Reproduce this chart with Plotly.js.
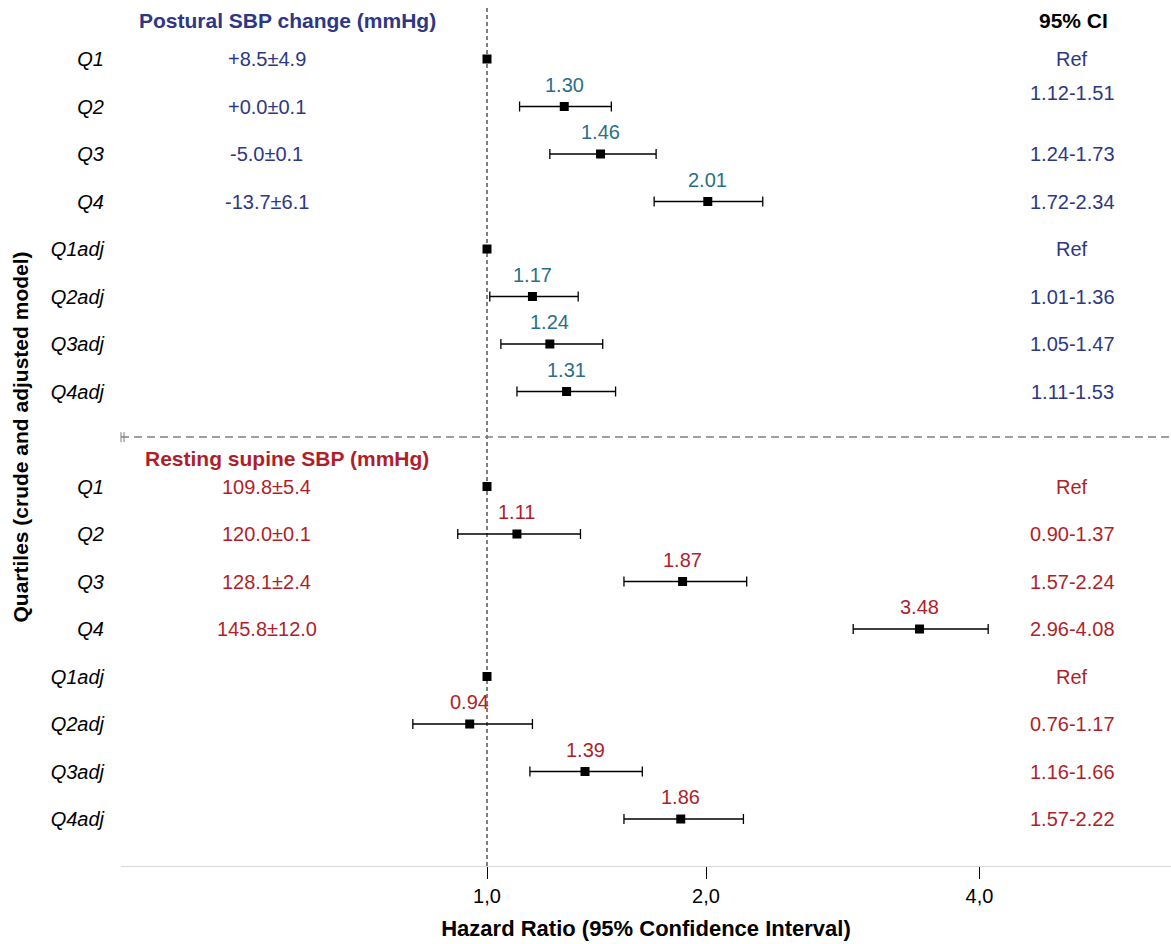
<!DOCTYPE html>
<html>
<head>
<meta charset="utf-8">
<script src="https://cdn.plot.ly/plotly-3.0.1.min.js"></script>
<style>html,body{margin:0;padding:0;background:#fff;}#chart{width:1171px;height:944px;}</style>
</head>
<body>
<div id="chart"></div>
<script>
// ---------- data ----------
const rowLabels = ["Q1","Q2","Q3","Q4","Q1adj","Q2adj","Q3adj","Q4adj"];

const posturalHeader = "Postural SBP change (mmHg)";
const posturalMeanSd = ["+8.5±4.9","+0.0±0.1","-5.0±0.1","-13.7±6.1","","","",""];
const posturalHR     = [1, 1.30, 1.46, 2.01, 1, 1.17, 1.24, 1.31];
const posturalLo     = [null, 1.12, 1.24, 1.72, null, 1.01, 1.05, 1.11];
const posturalHi     = [null, 1.51, 1.73, 2.34, null, 1.36, 1.47, 1.53];

const supineHeader = "Resting supine SBP (mmHg)";
const supineMeanSd = ["109.8±5.4","120.0±0.1","128.1±2.4","145.8±12.0","","","",""];
const supineHR     = [1, 1.11, 1.87, 3.48, 1, 0.94, 1.39, 1.86];
const supineLo     = [null, 0.90, 1.57, 2.96, null, 0.76, 1.16, 1.57];
const supineHi     = [null, 1.37, 2.24, 4.08, null, 1.17, 1.66, 2.22];

const xTickValues = [1, 2, 4];
const xTickLabels = ["1,0", "2,0", "4,0"];

// ---------- style ----------
const FONT = "Liberation Sans, Arial, Helvetica, sans-serif";
const NAVY = "#2e3785";
const TEAL = "#2a6f8a";
const RED  = "#b01f29";
const FS = 20;
// the reference x axis is a power (approximately cube-root) scale
const P = 0.32;
const tf = v => Math.pow(v, P);

// row positions on the y axis (group 1: 1..8, group 2: 10..17)
const rowsTop = rowLabels.map((_, i) => i + 1);
const rowsBot = rowLabels.map((_, i) => i + 10);

const traces = [];
const annotations = [];

function addGroup(rows, hr, lo, hi, meanSd, textColor, labelColor, ciYShift) {
  const ref = {x: [], y: []};
  const est = {x: [], y: [], plus: [], minus: []};
  hr.forEach((v, i) => {
    if (lo[i] === null) {
      ref.x.push(tf(v)); ref.y.push(rows[i]);
    } else {
      est.x.push(tf(v)); est.y.push(rows[i]);
      est.plus.push(tf(hi[i]) - tf(v));
      est.minus.push(tf(v) - tf(lo[i]));
      annotations.push({x: tf(v), y: rows[i], xref: 'x', yref: 'y', text: v.toFixed(2),
        showarrow: false, xanchor: 'center', yanchor: 'middle', yshift: 22,
        font: {family: FONT, size: FS, color: labelColor}});
    }
    // CI column text
    annotations.push({x: 0.906, xref: 'paper', y: rows[i], yref: 'y',
      text: lo[i] === null ? 'Ref' : lo[i].toFixed(2) + '-' + hi[i].toFixed(2),
      showarrow: false, xanchor: 'center', yanchor: 'middle', yshift: (ciYShift[i] || 0),
      font: {family: FONT, size: FS, color: textColor}});
    if (meanSd[i]) {
      annotations.push({x: 0.139, xref: 'paper', y: rows[i], yref: 'y', text: meanSd[i],
        showarrow: false, xanchor: 'center', yanchor: 'middle',
        font: {family: FONT, size: FS, color: textColor}});
    }
  });
  traces.push({type: 'scatter', mode: 'markers', x: est.x, y: est.y, hoverinfo: 'skip',
    marker: {symbol: 'square', size: 9, color: '#000'},
    error_x: {type: 'data', symmetric: false, array: est.plus, arrayminus: est.minus,
      color: '#000', thickness: 1.3, width: 5}});
  traces.push({type: 'scatter', mode: 'markers', x: ref.x, y: ref.y, hoverinfo: 'skip',
    marker: {symbol: 'square', size: 9, color: '#000'}});
}

addGroup(rowsTop, posturalHR, posturalLo, posturalHi, posturalMeanSd, NAVY, TEAL, [0, 14, 0, 0, 0, 0, 0, 0]);
addGroup(rowsBot, supineHR, supineLo, supineHi, supineMeanSd, RED, RED, []);

// headers
annotations.push({x: 0.159, xref: 'paper', y: 0.18, yref: 'y', text: '<b>' + posturalHeader + '</b>',
  showarrow: false, xanchor: 'center', yanchor: 'middle', font: {family: FONT, size: 21, color: NAVY}});
annotations.push({x: 0.9075, xref: 'paper', y: 0.18, yref: 'y', text: '<b>95% CI</b>',
  showarrow: false, xanchor: 'center', yanchor: 'middle', font: {family: FONT, size: 21, color: '#000'}});
annotations.push({x: 0.158, xref: 'paper', y: 9.42, yref: 'y', text: '<b>' + supineHeader + '</b>',
  showarrow: false, xanchor: 'center', yanchor: 'middle', font: {family: FONT, size: 21, color: RED}});

const layout = {
  width: 1171, height: 944,
  margin: {l: 121, r: 0, t: 8, b: 78},
  paper_bgcolor: '#fff', plot_bgcolor: '#fff',
  showlegend: false,
  font: {family: FONT, size: FS, color: '#000'},
  xaxis: {
    range: [tf(1) - 366 / 882, tf(1) + 684 / 882],
    tickvals: xTickValues.map(tf), ticktext: xTickLabels,
    showgrid: false, zeroline: false,
    showline: true, linecolor: '#d9d9d9', linewidth: 1,
    ticks: 'outside', ticklen: 12, tickcolor: '#000', tickwidth: 1,
    tickfont: {family: FONT, size: FS, color: '#000'},
    title: {text: '<b>Hazard Ratio (95% Confidence Interval)</b>', standoff: 14,
      font: {family: FONT, size: 22, color: '#000'}}
  },
  yaxis: {
    range: [17.989, -0.0737],
    tickvals: rowsTop.concat(rowsBot), ticktext: rowLabels.concat(rowLabels).map(s => '<i>' + s + '</i>'),
    showgrid: false, zeroline: false, showline: false,
    ticks: '', ticklabelstandoff: 16,
    tickfont: {family: FONT, size: FS, color: '#000'},
    title: {text: '<b>Quartiles (crude and adjusted model)</b>', standoff: 16,
      font: {family: FONT, size: 21, color: '#000'}}
  },
  shapes: [
    {type: 'line', xref: 'x', yref: 'paper', x0: tf(1), x1: tf(1), y0: 0, y1: 1,
      line: {color: '#000', width: 1, dash: '4px,3px'}, layer: 'below'},
    {type: 'line', xref: 'paper', yref: 'y', x0: 0, x1: 1, y0: 8.96, y1: 8.96,
      line: {color: '#7f7f7f', width: 1.5, dash: '8px,5px'}},
    {type: 'line', xref: 'paper', xsizemode: 'pixel', xanchor: 0, x0: 0, x1: 0,
      yref: 'y', ysizemode: 'pixel', yanchor: 8.96, y0: -5, y1: 5, line: {color: '#7f7f7f', width: 1}},
    {type: 'line', xref: 'paper', xsizemode: 'pixel', xanchor: 0, x0: 3, x1: 3,
      yref: 'y', ysizemode: 'pixel', yanchor: 8.96, y0: -5, y1: 5, line: {color: '#7f7f7f', width: 1}}
  ],
  annotations: annotations
};

Plotly.newPlot('chart', traces, layout, {displayModeBar: false, staticPlot: true});
</script>
</body>
</html>
